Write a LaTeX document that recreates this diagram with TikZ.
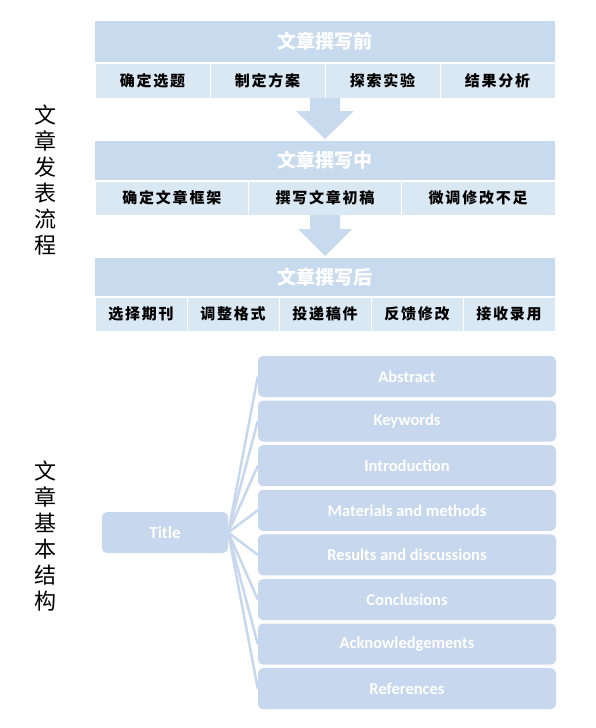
\documentclass[tikz,border=0pt]{standalone}
\usepackage{fontspec}
\setmainfont{Carlito}
\newfontfamily\cjk{Noto Sans CJK SC}
\newfontfamily\cjkcell[LetterSpace=12]{Noto Sans CJK SC}
\usetikzlibrary{calc}
\definecolor{headc}{HTML}{C8DAEE}
\definecolor{cellc}{HTML}{DAE8F3}
\definecolor{boxc}{HTML}{C6D7EE}
\definecolor{linec}{HTML}{C6D7EE}
\tikzset{
  headbox/.style={fill=headc, draw=white, line width=0.8pt, inner sep=0pt, minimum width=461pt, text=white, font=\cjk\bfseries\fontsize{19}{22}\selectfont},
  cellbox/.style={fill=cellc, draw=white, line width=0.8pt, inner sep=0pt, minimum height=35pt, text=black, font=\cjkcell\bfseries\fontsize{15}{18}\selectfont},
  sidetext/.style={align=center, inner sep=0pt, font=\cjk\fontsize{22}{26}\selectfont},
  partbox/.style={fill=boxc, rounded corners=5pt, inner sep=0pt, minimum width=298pt, minimum height=41pt, text=white, font=\bfseries\fontsize{16.5}{19}\selectfont},
  link/.style={draw=linec, line width=2.5pt},
  flowarrow/.style={fill=headc}
}
\begin{document}
\begin{tikzpicture}[x=1pt,y=-1pt]
\useasboundingbox (0,0) rectangle (596,728);
% side texts
\node[sidetext] (s1) at (45,180) {文\\章\\发\\表\\流\\程};
\node[sidetext] (s2) at (45,536) {文\\章\\基\\本\\结\\构};
% banner 1
\node[headbox, minimum height=42pt] (h1) at (325,41.5) {文章撰写前};
\node[cellbox, minimum width=115pt] (c11) at (152.5,80.5) {确定选题};
\node[cellbox, minimum width=115pt] (c12) at (267.5,80.5) {制定方案};
\node[cellbox, minimum width=115pt] (c13) at (382.5,80.5) {探索实验};
\node[cellbox, minimum width=115pt] (c14) at (497.5,80.5) {结果分析};
% arrow 1
\fill[flowarrow] (310,98) -- (340,98) -- (340,111) -- (354,111) -- (325,139) -- (296,111) -- (310,111) -- cycle;
% banner 2
\node[headbox, minimum height=40pt] (h2) at (325,160.5) {文章撰写中};
\node[cellbox, minimum width=153.67pt, minimum height=34pt] (c21) at (171.83,198) {确定文章框架};
\node[cellbox, minimum width=153.67pt, minimum height=34pt] (c22) at (325,198) {撰写文章初稿};
\node[cellbox, minimum width=153.67pt, minimum height=34pt] (c23) at (478.17,198) {微调修改不足};
% arrow 2
\fill[flowarrow] (310,215) -- (340,215) -- (340,229) -- (352,229) -- (325,256) -- (298,229) -- (310,229) -- cycle;
% banner 3
\node[headbox, minimum height=39pt] (h3) at (325,277) {文章撰写后};
\node[cellbox, minimum width=92pt, minimum height=34pt] (c31) at (141,314) {选择期刊};
\node[cellbox, minimum width=92pt, minimum height=34pt] (c32) at (233,314) {调整格式};
\node[cellbox, minimum width=92pt, minimum height=34pt] (c33) at (325,314) {投递稿件};
\node[cellbox, minimum width=92pt, minimum height=34pt] (c34) at (417,314) {反馈修改};
\node[cellbox, minimum width=92pt, minimum height=34pt] (c35) at (509,314) {接收录用};
% structure
\node[partbox, minimum width=126pt, font=\bfseries\fontsize{17}{20}\selectfont] (title) at (165,532.5) {Title};
\node[partbox] (p1) at (407,376.5) {Abstract};
\node[partbox] (p2) at (407,421.1) {Keywords};
\node[partbox] (p3) at (407,465.7) {Introduction};
\node[partbox] (p4) at (407,510.3) {Materials and methods};
\node[partbox] (p5) at (407,554.9) {Results and discussions};
\node[partbox] (p6) at (407,599.5) {Conclusions};
\node[partbox] (p7) at (407,644.1) {Acknowledgements};
\node[partbox] (p8) at (407,688.7) {References};
\foreach \p in {p1,p2,p3,p4,p5,p6,p7,p8}
  \draw[link] (title.east) -- (\p.west);
\end{tikzpicture}
\end{document}
